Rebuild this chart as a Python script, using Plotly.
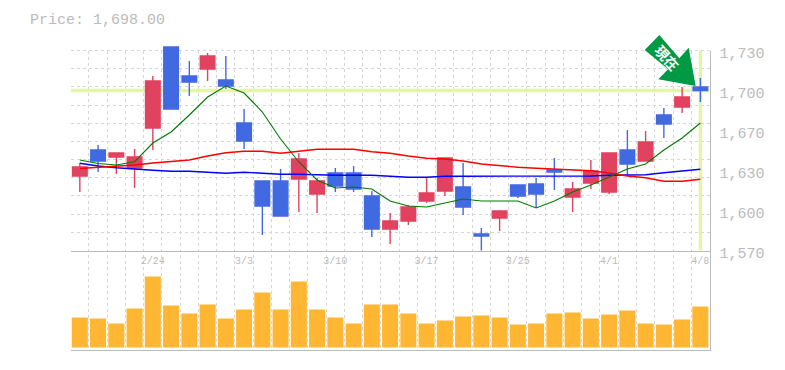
import plotly.graph_objects as go

W, H = 785, 370

date_index = list(range(35))
tick_positions = [4, 9, 14, 19, 24, 29, 34]
tick_dates = ["2/24", "3/3", "3/10", "3/17", "3/25", "4/1", "4/8"]
price_tick_values = [1730, 1698, 1666, 1634, 1602, 1570]
price_tick_labels = ["1,730", "1,700", "1,670", "1,630", "1,600", "1,570"]
current_price_label = "Price: 1,698.00"
current_price = 1698

open_prices = [1629.6, 1650.4, 1644.8, 1636.0, 1668.0, 1732.8, 1709.6, 1715.2, 1706.4, 1672.0,
               1625.6, 1625.6, 1627.2, 1615.2, 1632.0, 1632.0, 1613.6, 1587.2, 1593.6, 1609.6,
               1617.6, 1620.8, 1583.2, 1596.0, 1622.4, 1623.2, 1634.4, 1612.8, 1624.0, 1616.8,
               1650.4, 1641.6, 1678.4, 1684.8, 1700.8]
high_prices = [1640.0, 1654.4, 1648.0, 1651.2, 1709.6, 1732.8, 1721.6, 1728.0, 1725.6, 1683.2,
               1625.6, 1635.2, 1648.0, 1628.0, 1636.0, 1637.6, 1617.6, 1600.0, 1606.4, 1628.8,
               1644.0, 1640.0, 1588.0, 1602.4, 1622.4, 1628.0, 1644.0, 1624.8, 1642.4, 1648.0,
               1666.4, 1665.6, 1684.0, 1700.8, 1708.0]
low_prices = [1616.8, 1632.8, 1631.2, 1620.0, 1650.4, 1683.2, 1693.6, 1705.6, 1699.2, 1651.2,
              1582.4, 1597.6, 1600.8, 1600.0, 1616.8, 1616.8, 1580.8, 1575.2, 1590.4, 1608.0,
              1613.6, 1598.4, 1569.6, 1585.6, 1612.0, 1604.0, 1618.4, 1600.8, 1619.2, 1615.2,
              1629.6, 1641.6, 1660.0, 1680.0, 1688.8]
close_prices = [1636.8, 1641.6, 1648.0, 1644.8, 1705.6, 1683.2, 1704.8, 1725.6, 1701.6, 1657.6,
                1605.6, 1597.6, 1643.2, 1625.6, 1621.6, 1619.2, 1587.2, 1593.6, 1604.8, 1616.0,
                1644.0, 1604.8, 1581.6, 1601.6, 1613.6, 1615.2, 1632.8, 1619.2, 1633.6, 1648.0,
                1639.2, 1656.8, 1671.2, 1692.8, 1698.0]

ma_short = [1642.4, 1639.6, 1638.4, 1641.0, 1656.0, 1664.8, 1678.4, 1692.8, 1701.6, 1696.0,
            1680.8, 1659.2, 1640.8, 1626.4, 1620.0, 1620.8, 1619.2, 1609.6, 1605.6, 1604.8,
            1608.0, 1611.2, 1609.6, 1609.6, 1609.6, 1604.0, 1609.6, 1616.8, 1622.4, 1628.8,
            1635.2, 1639.2, 1650.4, 1660.0, 1672.0]
ma_mid = [1635.6, 1636.6, 1637.0, 1638.4, 1640.0, 1641.0, 1642.4, 1645.6, 1648.2, 1649.4,
          1649.4, 1647.8, 1649.6, 1651.0, 1651.0, 1651.0, 1649.0, 1647.8, 1645.6, 1643.8,
          1643.2, 1641.6, 1639.2, 1637.6, 1636.6, 1635.8, 1635.2, 1634.4, 1633.8, 1632.0,
          1629.6, 1628.2, 1625.4, 1625.4, 1627.0]
ma_long = [1639.8, 1637.6, 1636.2, 1635.0, 1634.2, 1633.4, 1633.4, 1632.6, 1631.8, 1632.6,
           1631.8, 1631.0, 1631.0, 1630.4, 1630.2, 1630.2, 1630.2, 1629.4, 1628.6, 1628.6,
           1629.4, 1629.4, 1629.4, 1629.4, 1629.4, 1629.4, 1629.4, 1629.6, 1629.6, 1630.2,
           1630.2, 1630.6, 1632.2, 1633.6, 1635.0]

volume = [3000, 2900, 2400, 3900, 7100, 4200, 3400, 4300, 2900, 3800, 5500, 3800, 6600, 3800, 3000,
          2400, 4300, 4300, 3400, 2400, 2700, 3100, 3200, 3000, 2300, 2400, 3400, 3500, 2900, 3300,
          3700, 2400, 2300, 2800, 4100]

arrow_label = "現在"

RED = "#e1425f"
BLUE = "#4169e1"
GRID = "#d6d6d6"
AXIS = "#bbbbbb"
TEXT = "#bbbbbb"
CROSS = "#e4f5a9"
MONO = "Liberation Mono"

x_dom = [70.7 / W, 709.5 / W]

fig = go.Figure()

fig.add_trace(go.Bar(x=date_index, y=volume, width=0.88, marker=dict(color="#ffb733", line_width=0),
                     xaxis="x", yaxis="y", showlegend=False))

for series, color, lw in [(ma_long, "#0000ff", 1.4), (ma_mid, "#ff0000", 1.4), (ma_short, "#007a00", 1.1)]:
    fig.add_trace(go.Scatter(x=date_index, y=series, mode="lines", line=dict(color=color, width=lw),
                             xaxis="x2", yaxis="y2", showlegend=False))

fig.add_trace(go.Candlestick(
    x=date_index, open=open_prices, high=high_prices, low=low_prices, close=close_prices,
    increasing=dict(line=dict(color=RED, width=1.4), fillcolor=RED),
    decreasing=dict(line=dict(color=BLUE, width=1.4), fillcolor=BLUE),
    whiskerwidth=0, xaxis="x2", yaxis="y2", showlegend=False))

fig.update_layout(
    width=W, height=H, margin=dict(l=0, r=0, t=0, b=0, pad=0, autoexpand=False),
    paper_bgcolor="white", plot_bgcolor="rgba(0,0,0,0)",
    boxgap=0.2, boxgroupgap=0, bargap=0.12, showlegend=False, hovermode=False,
    xaxis=dict(domain=x_dom, anchor="y", range=[-0.5, 34.5], tick0=-0.5, dtick=1,
               showgrid=True, gridcolor=GRID, griddash="3px,3px", gridwidth=1,
               showticklabels=False, ticks="", zeroline=False,
               rangeslider=dict(visible=False),
               showline=True, linecolor=AXIS, linewidth=1),
    yaxis=dict(domain=[1 - 349.5 / H, 1 - 51 / H], anchor="x", side="right", range=[-200, 29650],
               showgrid=False, showticklabels=False, ticks="", zeroline=False,
               showline=True, linecolor=AXIS, linewidth=1),
    xaxis2=dict(domain=x_dom, anchor="y2", range=[-0.5, 34.5], showgrid=False,
                tickvals=tick_positions, ticktext=tick_dates, ticks="",
                tickfont=dict(family=MONO, size=10, color="#bbbbbb"),
                rangeslider=dict(visible=False), zeroline=False,
                showline=True, linecolor=AXIS, linewidth=1, ticklabelstandoff=0),
    yaxis2=dict(domain=[1 - 250.5 / H, 1 - 45 / H], anchor="x2", side="right", range=[1570, 1734.4],
                tickvals=price_tick_values, ticktext=price_tick_labels, ticks="",
                showgrid=False, zeroline=False, showline=False,
                ticklabelstandoff=9, ticklabelshift=2,
                tickfont=dict(family=MONO, size=15, color=TEXT),
                minor=dict(tick0=1570, dtick=160 / 11, showgrid=True, gridcolor=GRID,
                           griddash="3px,3px", gridwidth=1, ticks="")),
    shapes=[
        dict(type="line", xref="x2", yref="y2", x0=-0.5, x1=34.5, y0=current_price, y1=current_price,
             line=dict(color=CROSS, width=3.5), layer="below"),
        dict(type="line", xref="x2", yref="y2", x0=34, x1=34, y0=1570, y1=1730,
             line=dict(color=CROSS, width=3.5), layer="below"),
        dict(type="path", xref="paper", yref="paper", fillcolor="#009944", line_width=0, layer="above",
             path="M %.4f %.4f " % (659.3 / W, 1 - 35 / H)
                  + " ".join("L %.4f %.4f" % (px / W, 1 - py / H) for px, py in
                             [(644.7, 50), (668, 69.3), (658.3, 79.3), (695.7, 86), (688.7, 47.7), (679.3, 58.3)])
                  + " Z"),
    ],
    annotations=[
        dict(text=current_price_label, xref="paper", yref="paper", x=28 / W, y=1 - 20 / H,
             xanchor="left", yanchor="middle", showarrow=False,
             font=dict(family=MONO, size=15, color=TEXT)),
        dict(text=arrow_label, xref="paper", yref="paper", x=666.5 / W, y=1 - 57.5 / H,
             xanchor="center", yanchor="middle", showarrow=False, textangle=48,
             font=dict(family="Noto Sans CJK JP", size=14, color="white", weight="bold")),
    ],
)

fig.write_html("out.html", config={"displayModeBar": False},
               post_script="document.body.style.margin='0';document.documentElement.style.overflow='hidden';")
